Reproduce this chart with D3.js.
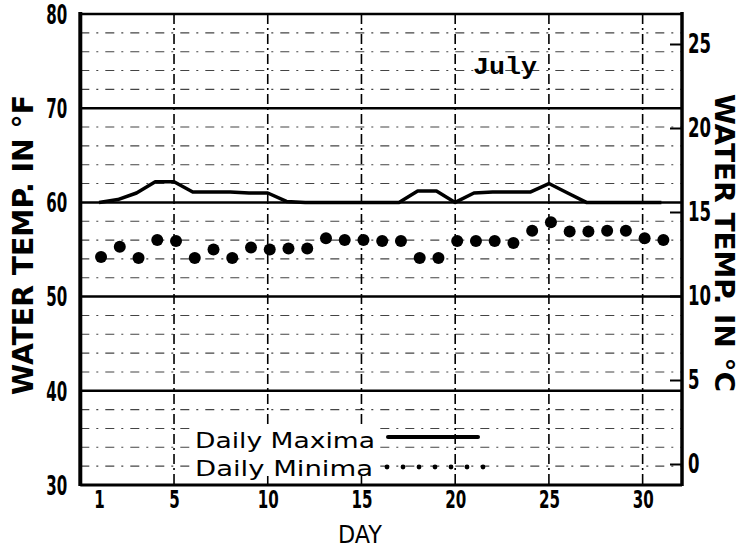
<!DOCTYPE html>
<html><head><meta charset="utf-8">
<script src="https://cdn.jsdelivr.net/npm/d3@7"></script>
<style>body{margin:0;background:#fff}</style>
</head><body><svg id="c" width="742" height="550"></svg>
<script>
const days = d3.range(1, 32);
const dailyMaxima = [60.0, 60.3, 61.0, 62.2, 62.2, 61.1, 61.1, 61.1, 61.0, 61.0,
  60.1, 60.0, 60.0, 60.0, 60.0, 60.0, 60.0, 61.2, 61.2, 60.0,
  61.0, 61.1, 61.1, 61.1, 62.0, 61.0, 60.0, 60.0, 60.0, 60.0, 60.0];
const dailyMinima = [54.2, 55.3, 54.1, 56.0, 55.9, 54.1, 55.0, 54.1, 55.2, 55.0,
  55.1, 55.1, 56.2, 56.0, 56.0, 55.9, 55.9, 54.1, 54.1, 55.9,
  55.9, 55.9, 55.7, 57.0, 57.9, 56.9, 56.9, 57.0, 57.0, 56.2, 56.0];
const dayTicks = [1, 5, 10, 15, 20, 25, 30];
const fTicks = [30, 40, 50, 60, 70, 80];
const cTicks = [0, 5, 10, 15, 20, 25];
const monthLabel = "July";
const legendLabels = ["Daily Maxima", "Daily Minima"];

const svg = d3.select("#c");
const x = d3.scaleLinear().domain([0, 32.1]).range([80.3, 682]);
const y = d3.scaleLinear().domain([30, 80]).range([485, 14]);
const yc = d3.scaleLinear().domain([0, 25]).range([464, 44]);
const tickFont = "'DejaVu Sans',sans-serif";
const labFont = "'DejaVu Sans',sans-serif";

function condense(sel, perChar) {
  sel.each(function () {
    const t = d3.select(this);
    const n = t.text().length;
    t.attr("textLength", n * perChar).attr("lengthAdjust", "spacingAndGlyphs");
  });
}

// dashed minor horizontal grid
const minor = d3.range(32, 80, 2).filter(v => v % 10 !== 0);
svg.append("g").selectAll("line").data(minor).join("line")
  .attr("x1", x(0)).attr("x2", x(32.1))
  .attr("y1", d => y(d)).attr("y2", d => y(d))
  .attr("stroke", "#444").attr("stroke-width", 1.1)
  .attr("stroke-dasharray", "9,7,2,7");

// solid major horizontal grid
svg.append("g").selectAll("line").data(fTicks.filter(v => v > 30 && v < 80)).join("line")
  .attr("x1", x(0)).attr("x2", x(32.1))
  .attr("y1", d => y(d)).attr("y2", d => y(d))
  .attr("stroke", "#000").attr("stroke-width", 2.5);

// vertical dash-dot lines
svg.append("g").selectAll("line").data(dayTicks.filter(d => d % 5 === 0)).join("line")
  .attr("x1", d => x(d)).attr("x2", d => x(d))
  .attr("y1", y(80)).attr("y2", y(30))
  .attr("stroke", "#000").attr("stroke-width", 1.6)
  .attr("stroke-dasharray", "10,4,2,4");

// frame
svg.append("line").attr("x1", x(0)).attr("x2", x(32.1)).attr("y1", y(80)).attr("y2", y(80))
  .attr("stroke", "#000").attr("stroke-width", 2.5);
svg.append("line").attr("x1", x(0)).attr("x2", x(32.1)).attr("y1", y(30)).attr("y2", y(30))
  .attr("stroke", "#000").attr("stroke-width", 3);
svg.append("line").attr("x1", x(0)).attr("x2", x(0)).attr("y1", y(80) - 2).attr("y2", y(30) + 1)
  .attr("stroke", "#000").attr("stroke-width", 4);
svg.append("line").attr("x1", x(32.1)).attr("x2", x(32.1)).attr("y1", y(80) - 2).attr("y2", y(30) + 1)
  .attr("stroke", "#000").attr("stroke-width", 3.5);

// left axis labels
const yAxis = d3.axisLeft(y).tickValues(fTicks).tickSize(0).tickPadding(13);
const gl = svg.append("g").attr("transform", `translate(${x(0)},0)`).call(yAxis);
gl.select(".domain").remove();
gl.selectAll("text").attr("font-family", tickFont).attr("font-weight", "bold")
  .attr("font-size", 26).attr("dy", "0.36em").attr("fill", "#000").call(condense, 10.5);

// right axis
const cAxis = d3.axisLeft(yc).tickValues(cTicks).tickSize(12).tickFormat(d3.format("d"));
const gr = svg.append("g").attr("transform", `translate(${x(32.1)},0)`).call(cAxis);
gr.select(".domain").remove();
gr.selectAll("line").attr("stroke", "#000").attr("stroke-width", 2);
gr.selectAll("text").attr("x", 6).attr("text-anchor", "start")
  .attr("font-family", tickFont).attr("font-weight", "bold")
  .attr("font-size", 26).attr("fill", "#000").call(condense, 11.5);

// bottom axis
const xAxis = d3.axisBottom(x).tickValues(dayTicks).tickSize(0).tickPadding(6);
const gb = svg.append("g").attr("transform", `translate(0,${y(30)})`).call(xAxis);
gb.select(".domain").remove();
gb.selectAll("text").attr("font-family", tickFont).attr("font-weight", "bold")
  .attr("font-size", 24).attr("fill", "#000").call(condense, 10.5);

// maxima line
const line = d3.line().x((d, i) => x(days[i])).y(d => y(d));
svg.append("path").datum(dailyMaxima).attr("d", line)
  .attr("fill", "none").attr("stroke", "#000").attr("stroke-width", 3.5)
  .attr("stroke-linejoin", "round");

// minima dots
svg.append("g").selectAll("circle").data(dailyMinima).join("circle")
  .attr("cx", (d, i) => x(days[i]) + 2).attr("cy", d => y(d)).attr("r", 6)
  .attr("fill", "#000");

// month label
svg.append("text").attr("x", 473).attr("y", 74)
  .attr("font-family", "'Liberation Mono','DejaVu Sans Mono',monospace").attr("font-weight", "bold")
  .attr("font-size", 24).attr("textLength", 64).attr("lengthAdjust", "spacingAndGlyphs").text(monthLabel);

// legend
svg.append("rect").attr("x", 190).attr("y", 426).attr("width", 190).attr("height", 50).attr("fill", "#fff");
svg.append("text").attr("x", 195).attr("y", 448).attr("font-family", labFont)
  .attr("font-size", 21).attr("textLength", 180).attr("lengthAdjust", "spacingAndGlyphs").text(legendLabels[0]);
svg.append("text").attr("x", 195).attr("y", 476).attr("font-family", labFont)
  .attr("font-size", 21).attr("textLength", 178).attr("lengthAdjust", "spacingAndGlyphs").text(legendLabels[1]);
svg.append("line").attr("x1", 388).attr("x2", 478).attr("y1", 437).attr("y2", 437)
  .attr("stroke", "#000").attr("stroke-width", 4).attr("stroke-linecap", "round");
svg.append("g").selectAll("circle").data(d3.range(7)).join("circle")
  .attr("cx", d => 387 + d * 16).attr("cy", 467).attr("r", 2.4).attr("fill", "#000");

// axis titles
svg.append("text").attr("transform", "translate(33,245) rotate(-90)")
  .attr("text-anchor", "middle").attr("font-family", labFont).attr("font-weight", "bold")
  .attr("font-size", 28).attr("textLength", 300).attr("lengthAdjust", "spacingAndGlyphs")
  .text("WATER TEMP. IN °F");
svg.append("text").attr("transform", "translate(715,243) rotate(90)")
  .attr("text-anchor", "middle").attr("font-family", labFont).attr("font-weight", "bold")
  .attr("font-size", 26).attr("textLength", 298).attr("lengthAdjust", "spacingAndGlyphs")
  .text("WATER TEMP. IN °C");
svg.append("text").attr("x", 360).attr("y", 543).attr("text-anchor", "middle")
  .attr("font-family", labFont).attr("font-size", 25).attr("textLength", 44)
  .attr("lengthAdjust", "spacingAndGlyphs").text("DAY");
</script></body></html>
